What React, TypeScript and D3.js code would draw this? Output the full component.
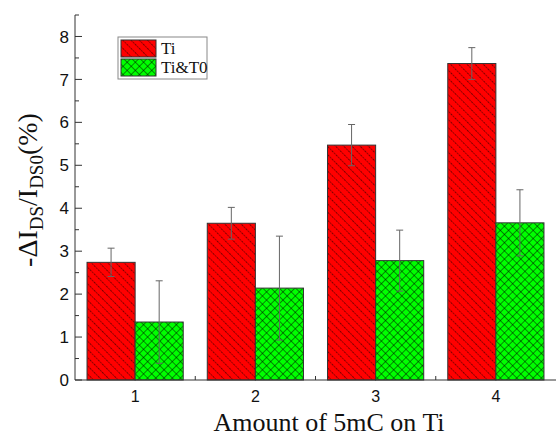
import React from "react";
import * as d3 from "d3";

const categories = [1, 2, 3, 4];
const tiValues = [2.74, 3.65, 5.47, 7.37];
const tiErrors = [0.33, 0.37, 0.48, 0.37];
const t0Values = [1.35, 2.14, 2.78, 3.66];
const t0Errors = [0.96, 1.21, 0.71, 0.77];
const yTicks = [0, 1, 2, 3, 4, 5, 6, 7, 8];
const seriesNames = ["Ti", "Ti&T0"];

const W = 556;
const H = 437;

export default function App() {
  const x = d3.scaleLinear().domain([0.5, 4.5]).range([75, 556]);
  const y = d3.scaleLinear().domain([0, 8.5]).range([380, 15]);
  const minor = d3.range(0.5, 8.51, 1);
  const halfW = 0.4;
  const capW = 3.5;
  const sans = "'Liberation Sans', Arial, sans-serif";
  const serif = "'Liberation Serif', 'Times New Roman', serif";

  const bars: any[] = [];
  categories.forEach((c, i) => {
    bars.push({ x0: c - halfW, x1: c, v: tiValues[i], e: tiErrors[i], fill: "url(#hatchRed)" });
    bars.push({ x0: c, x1: c + halfW, v: t0Values[i], e: t0Errors[i], fill: "url(#hatchGreen)" });
  });

  return (
    <svg width={W} height={H} style={{ position: "absolute", left: 0, top: 0, background: "#fff" }}>
      <defs>
        <pattern id="hatchRed" patternUnits="userSpaceOnUse" width="5.8" height="5.8" patternTransform="rotate(-45)">
          <rect width="5.8" height="5.8" fill="#ff0000" />
          <line x1="0" y1="0" x2="0" y2="5.8" stroke="#000" strokeWidth="1" strokeDasharray="1 0.6" />
        </pattern>
        <pattern id="hatchGreen" patternUnits="userSpaceOnUse" width="5.8" height="5.8" patternTransform="rotate(45)">
          <rect width="5.8" height="5.8" fill="#00ff00" />
          <line x1="0" y1="0" x2="0" y2="5.8" stroke="#000" strokeWidth="0.9" />
          <line x1="0" y1="0" x2="5.8" y2="0" stroke="#000" strokeWidth="0.9" />
        </pattern>
      </defs>

      {bars.map((b, i) => (
        <rect
          key={"b" + i}
          x={x(b.x0)}
          y={y(b.v)}
          width={x(b.x1) - x(b.x0)}
          height={y(0) - y(b.v)}
          fill={b.fill}
          stroke="#333"
          strokeWidth={1}
        />
      ))}

      {bars.map((b, i) => {
        const cx = (x(b.x0) + x(b.x1)) / 2;
        return (
          <g key={"e" + i} stroke="#666" strokeWidth={1}>
            <line x1={cx} x2={cx} y1={y(b.v + b.e)} y2={y(b.v - b.e)} />
            <line x1={cx - capW} x2={cx + capW} y1={y(b.v + b.e)} y2={y(b.v + b.e)} />
            <line x1={cx - capW} x2={cx + capW} y1={y(b.v - b.e)} y2={y(b.v - b.e)} />
          </g>
        );
      })}

      {/* y axis */}
      <line x1={75} x2={75} y1={y(8.5)} y2={y(0)} stroke="#333" strokeWidth={1} />
      {yTicks.map((t) => (
        <g key={"yt" + t}>
          <line x1={75} x2={82} y1={y(t)} y2={y(t)} stroke="#333" />
          <text x={69} y={y(t)} dy="0.36em" textAnchor="end" fontFamily={sans} fontSize={17} fill="#111">
            {t}
          </text>
        </g>
      ))}
      {minor.map((t) => (
        <line key={"ym" + t} x1={75} x2={79} y1={y(t)} y2={y(t)} stroke="#333" />
      ))}

      {/* x axis */}
      <line x1={75} x2={556} y1={y(0)} y2={y(0)} stroke="#333" strokeWidth={1} />
      {[1.5, 2.5, 3.5].map((t) => (
        <line key={"xt" + t} x1={x(t)} x2={x(t)} y1={y(0)} y2={y(0) - 4} stroke="#333" />
      ))}
      {categories.map((c) => (
        <text key={"xl" + c} x={x(c)} y={402} textAnchor="middle" fontFamily={sans} fontSize={16} fill="#111">
          {c}
        </text>
      ))}

      {/* axis titles */}
      <text x={329} y={431} textAnchor="middle" fontFamily={serif} fontSize={26} fill="#111">
        Amount of 5mC on Ti
      </text>
      <text
        transform="translate(37,190) rotate(-90)"
        textAnchor="middle"
        fontFamily={serif}
        fontSize={28}
        fill="#111"
      >
        -ΔI
        <tspan fontSize={19} dy={6}>DS</tspan>
        <tspan dy={-6}>/I</tspan>
        <tspan fontSize={19} dy={6}>DS0</tspan>
        <tspan dy={-6}>(%)</tspan>
      </text>

      {/* legend */}
      <rect x={118} y={37} width={89} height={42} fill="#fff" stroke="#888" strokeWidth={1} />
      <rect x={121} y={40} width={35} height={17} fill="url(#hatchRed)" stroke="#333" />
      <rect x={121} y={59} width={35} height={17} fill="url(#hatchGreen)" stroke="#333" />
      <text x={161} y={54} fontFamily={serif} fontSize={17} fill="#111">{seriesNames[0]}</text>
      <text x={161} y={73} fontFamily={serif} fontSize={17} fill="#111">{seriesNames[1]}</text>
    </svg>
  );
}
